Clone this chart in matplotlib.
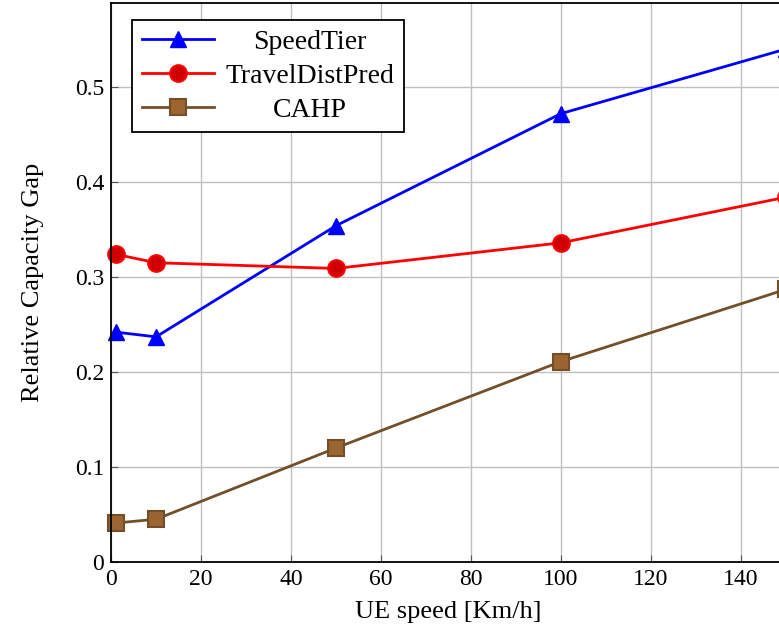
import matplotlib
matplotlib.use("Agg")
import matplotlib.pyplot as plt

plt.rcParams['font.family'] = ['Liberation Serif', 'DejaVu Serif']
plt.rcParams['mathtext.fontset'] = 'stix'

# data
speed = [1, 10, 50, 100, 150]
speed_tier = [0.242, 0.237, 0.354, 0.472, 0.540]
travel_dist = [0.324, 0.315, 0.309, 0.336, 0.384]
cahp = [0.041, 0.045, 0.120, 0.211, 0.287]

xticks = [0, 20, 40, 60, 80, 100, 120, 140]
yticks = [0, 0.1, 0.2, 0.3, 0.4, 0.5]
yticklabels = ['0', '0.1', '0.2', '0.3', '0.4', '0.5']

W, H = 779, 641
fig = plt.figure(figsize=(W / 100, H / 100), dpi=100)
# axes run just past the right edge of the picture, like the cropped original
left, bottom, top = 111, 562, 2.5
xmax = 150
px_per_x = 4.5
right = left + xmax * px_per_x
ax = fig.add_axes([left / W, 1 - bottom / H, (right - left) / W, (bottom - top) / H])

ax.plot(speed, speed_tier, color='#0000ff', lw=2, marker='^', ms=11,
        mfc='#0000ff', mec='#0000ff', label='SpeedTier', clip_on=False)
ax.plot(speed, travel_dist, color='#ff0000', lw=2, marker='o', ms=12,
        mfc='#d00000', mec='#ff0000', mew=1.5, label='TravelDistPred', clip_on=False)
ax.plot(speed, cahp, color='#734f29', lw=2, marker='s', ms=11,
        mfc='#9b6430', mec='#734f29', mew=1.5, label='CAHP', clip_on=False)

ax.set_xlim(0, xmax)
ax.set_ylim(0, (bottom - top) / 950)
ax.set_xticks(xticks)
ax.set_yticks(yticks)
ax.set_yticklabels(yticklabels)
ax.tick_params(direction='in', length=5, labelsize=17, color='#555555', pad=5)
ax.grid(True, color='#c0c0c0', lw=1)
ax.set_axisbelow(True)
for s in ax.spines.values():
    s.set_linewidth(1.3)

ax.set_xlabel('UE speed [Km/h]', fontsize=19, labelpad=8)
ax.set_ylabel('Relative Capacity Gap', fontsize=19, labelpad=22)

leg = ax.legend(loc='upper left', bbox_to_anchor=((132 - left) / (right - left), 1 - (20 - top) / (bottom - top)),
                fontsize=20, frameon=True, fancybox=False, edgecolor='black',
                framealpha=1, borderpad=0.35, handlelength=2.6, labelspacing=0.3,
                handletextpad=0.4, borderaxespad=0)
leg.get_frame().set_linewidth(1.3)

# centre the legend labels in their column, as pgfplots does
fig.canvas.draw()
r = fig.canvas.get_renderer()
texts = leg.get_texts()
widths = [t.get_window_extent(r).width for t in texts]
wmax = max(widths)
for t, w in zip(texts, widths):
    t.set_position(((wmax - w) / 2, 0))

fig.savefig('out.png', dpi=100)
